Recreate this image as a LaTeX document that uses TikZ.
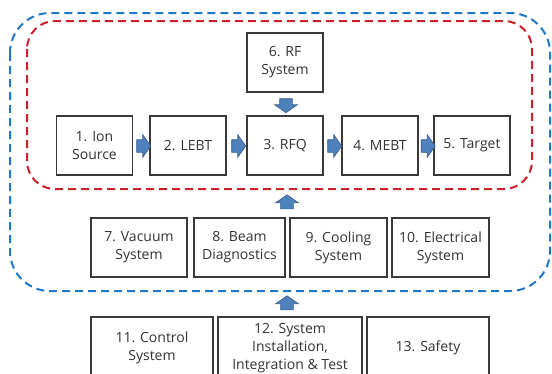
\documentclass[tikz,border=0pt]{standalone}
\usepackage{fontspec}
\setmainfont{Open Sans}
\usetikzlibrary{shapes.arrows}

\definecolor{boxline}{HTML}{3A3A3A}
\definecolor{arrowfill}{HTML}{4F81BD}
\definecolor{arrowline}{HTML}{385D8A}
\definecolor{redline}{HTML}{C9202A}
\definecolor{blueline}{HTML}{1F78C8}

\begin{document}
\begin{tikzpicture}[x=1pt,y=-1pt,
  sys/.style={draw=boxline,line width=1.2pt,fill=white,text=black!80,align=center,
    font=\fontsize{14}{18}\selectfont,inner sep=0pt,minimum height=59pt},
  flow/.style={single arrow,fill=arrowfill,draw=arrowline,line width=0.6pt,
    inner xsep=0pt,inner ysep=6pt,minimum height=14pt,
    single arrow head extend=5pt,single arrow tip angle=110},
  frame/.style={dashed,line width=2pt,dash pattern=on 8pt off 5pt,rounded corners=#1}
]
\path[use as bounding box,clip] (0,0) rectangle (552,373);

% dashed groups
\draw[frame=40pt,blueline] (10,13) rectangle (550,291);
\draw[frame=28pt,redline] (27,21) rectangle (532,189);

% beam line
\node[sys,minimum width=76pt] (ion) at (94.5,145.5) {1. Ion\\Source};
\node[sys,minimum width=76pt] (lebt) at (188,145.5) {2. LEBT};
\node[sys,minimum width=76pt] (rfq) at (285,145.5) {3. RFQ};
\node[sys,minimum width=76pt] (mebt) at (380,145.5) {4. MEBT};
\node[sys,minimum width=76pt] (target) at (472,145.5) {5. Target};
\node[sys,minimum width=76pt] (rf) at (285,62.5) {6. RF\\System};

\node[flow] (f12) at (141.5,146) {};
\node[flow] (f23) at (236.5,146) {};
\node[flow] (f34) at (332.5,146) {};
\node[flow] (f45) at (426,146) {};
\node[flow,rotate=-90] (frf) at (286,103.5) {};

% support systems
\node[sys,minimum width=96pt] (vac) at (139,247.5) {7. Vacuum\\System};
\node[sys,minimum width=91pt] (diag) at (239.5,247.5) {8. Beam\\Diagnostics};
\node[sys,minimum width=97pt] (cool) at (338.5,247.5) {9. Cooling\\System};
\node[sys,minimum width=97pt] (elec) at (440.5,247.5) {10. Electrical\\System};
\node[flow,rotate=90] (fsup) at (287,204) {};

% facility
\node[sys,minimum width=122pt,minimum height=62pt] (ctrl) at (152,348) {11. Control\\System};
\node[sys,minimum width=144pt,minimum height=62pt] (inst) at (290,348) {12. System\\Installation,\\Integration \& Test};
\node[sys,minimum width=122pt,minimum height=62pt] (safe) at (428,348) {13. Safety};
\node[flow,rotate=90] (ffac) at (287,305) {};
\end{tikzpicture}
\end{document}
